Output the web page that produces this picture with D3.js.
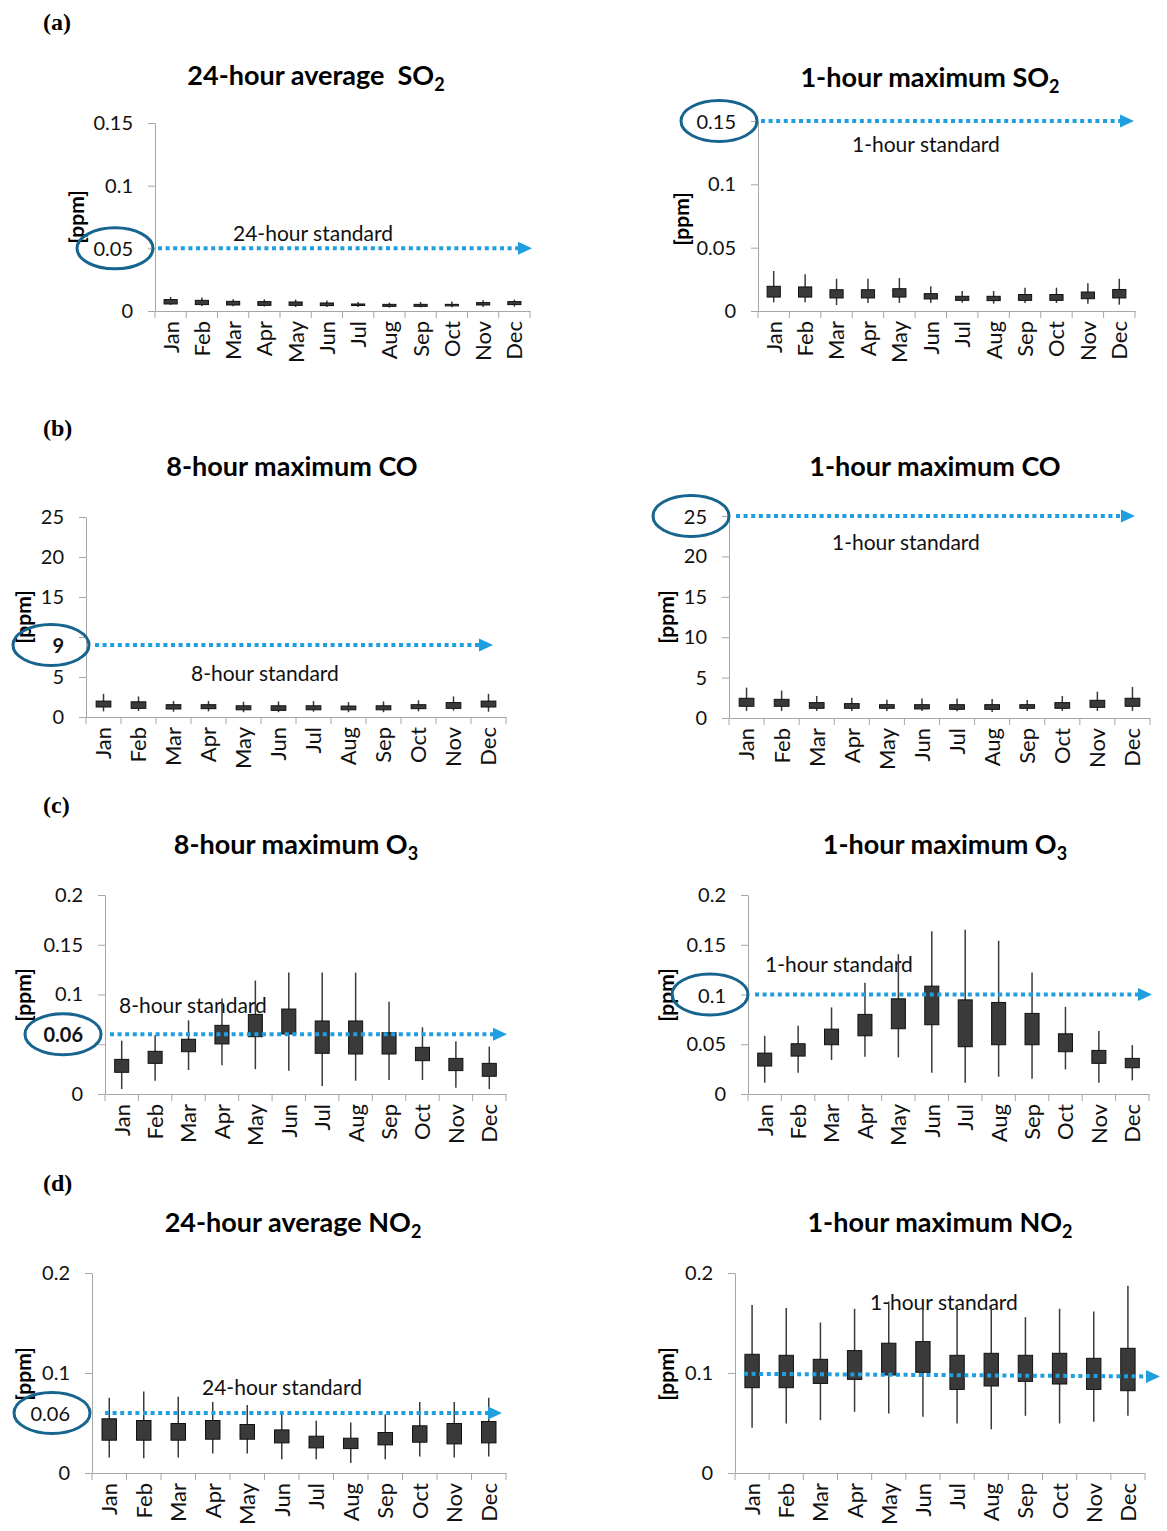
<!DOCTYPE html>
<html lang="en">
<head>
  <meta charset="UTF-8" />
  <title>Monthly distribution of pollutant concentrations</title>
  <script src="https://d3js.org/d3.v7.min.js"></script>
  <style>
    body { margin: 0; background: #fff; }
    svg { display: block; font-family: Lato, 'Open Sans', sans-serif; }
    .title { white-space: pre; }
  </style>
</head>
<body>
  <svg id="chart"></svg>

  <script>
    const months = ["Jan", "Feb", "Mar", "Apr", "May", "Jun", "Jul", "Aug", "Sep", "Oct", "Nov", "Dec"];

    // (a) SO2, 24-hour average [ppm]
    const so2AvgLow  = [0.0048, 0.0040, 0.0037, 0.0036, 0.0032, 0.0032, 0.0032, 0.0027, 0.0029, 0.0029, 0.0032, 0.0035];
    const so2AvgQ1   = [0.0056, 0.0051, 0.0048, 0.0045, 0.0045, 0.0043, 0.0045, 0.0037, 0.0037, 0.0043, 0.0048, 0.0051];
    const so2AvgQ3   = [0.0091, 0.0085, 0.0077, 0.0075, 0.0072, 0.0064, 0.0056, 0.0053, 0.0053, 0.0053, 0.0067, 0.0075];
    const so2AvgHigh = [0.0112, 0.0107, 0.0093, 0.0093, 0.0091, 0.0083, 0.0072, 0.0067, 0.0072, 0.0075, 0.0085, 0.0091];

    // (a) SO2, 1-hour maximum [ppm]
    const so2MaxLow  = [0.0068, 0.0070, 0.0047, 0.0063, 0.0063, 0.0063, 0.0066, 0.0058, 0.0063, 0.0063, 0.0058, 0.0050];
    const so2MaxQ1   = [0.0110, 0.0110, 0.0103, 0.0103, 0.0110, 0.0095, 0.0084, 0.0082, 0.0084, 0.0084, 0.0097, 0.0103];
    const so2MaxQ3   = [0.0195, 0.0190, 0.0168, 0.0168, 0.0176, 0.0137, 0.0116, 0.0116, 0.0130, 0.0130, 0.0150, 0.0170];
    const so2MaxHigh = [0.0316, 0.0290, 0.0255, 0.0255, 0.0260, 0.0195, 0.0158, 0.0158, 0.0184, 0.0184, 0.0220, 0.0255];

    // (b) CO, 8-hour maximum [ppm]
    const co8Low  = [0.70, 0.75, 0.66, 0.70, 0.60, 0.60, 0.66, 0.60, 0.60, 0.70, 0.80, 0.66];
    const co8Q1   = [1.25, 1.08, 1.00, 1.04, 0.90, 0.83, 0.90, 0.90, 0.90, 1.04, 1.08, 1.25];
    const co8Q3   = [1.99, 1.90, 1.54, 1.54, 1.40, 1.40, 1.40, 1.37, 1.40, 1.54, 1.80, 1.99];
    const co8High = [2.90, 2.57, 2.00, 2.00, 1.90, 1.95, 2.00, 1.87, 1.95, 2.10, 2.57, 2.90];

    // (b) CO, 1-hour maximum [ppm]
    const co1Low  = [0.87, 0.87, 0.87, 0.87, 0.87, 0.87, 0.83, 0.74, 0.87, 0.87, 0.87, 0.87];
    const co1Q1   = [1.45, 1.45, 1.20, 1.20, 1.20, 1.12, 1.07, 1.07, 1.20, 1.20, 1.32, 1.45];
    const co1Q3   = [2.44, 2.31, 1.90, 1.78, 1.65, 1.65, 1.65, 1.65, 1.65, 1.90, 2.19, 2.44];
    const co1High = [3.76, 3.39, 2.73, 2.52, 2.27, 2.40, 2.40, 2.36, 2.23, 2.73, 3.26, 3.84];

    // (c) O3, 8-hour maximum [ppm]
    const o38Low  = [0.0050, 0.0134, 0.0241, 0.0290, 0.0250, 0.0234, 0.0080, 0.0134, 0.0140, 0.0140, 0.0064, 0.0050];
    const o38Q1   = [0.0218, 0.0308, 0.0425, 0.0503, 0.0576, 0.0603, 0.0409, 0.0402, 0.0402, 0.0335, 0.0235, 0.0178];
    const o38Q3   = [0.0348, 0.0429, 0.0550, 0.0690, 0.0800, 0.0854, 0.0734, 0.0734, 0.0616, 0.0469, 0.0358, 0.0308];
    const o38High = [0.0536, 0.0590, 0.0740, 0.0960, 0.1140, 0.1220, 0.1220, 0.1220, 0.0928, 0.0670, 0.0529, 0.0476];

    // (c) O3, 1-hour maximum [ppm]
    const o31Low  = [0.0114, 0.0214, 0.0341, 0.0375, 0.0368, 0.0214, 0.0114, 0.0174, 0.0154, 0.0247, 0.0114, 0.0137];
    const o31Q1   = [0.0281, 0.0381, 0.0495, 0.0585, 0.0656, 0.0696, 0.0475, 0.0495, 0.0495, 0.0425, 0.0308, 0.0264];
    const o31Q3   = [0.0411, 0.0505, 0.0652, 0.0800, 0.0957, 0.1084, 0.0946, 0.0920, 0.0810, 0.0605, 0.0438, 0.0358];
    const o31High = [0.0585, 0.0686, 0.0870, 0.1117, 0.1405, 0.1635, 0.1650, 0.1540, 0.1220, 0.0876, 0.0632, 0.0492];

    // (d) NO2, 24-hour average [ppm]
    const no2AvgLow  = [0.0154, 0.0147, 0.0154, 0.0194, 0.0194, 0.0137, 0.0137, 0.0100, 0.0137, 0.0164, 0.0154, 0.0164];
    const no2AvgQ1   = [0.0328, 0.0328, 0.0328, 0.0338, 0.0338, 0.0301, 0.0251, 0.0244, 0.0281, 0.0308, 0.0291, 0.0301];
    const no2AvgQ3   = [0.0542, 0.0525, 0.0495, 0.0525, 0.0485, 0.0431, 0.0368, 0.0348, 0.0405, 0.0472, 0.0495, 0.0515];
    const no2AvgHigh = [0.0753, 0.0816, 0.0763, 0.0709, 0.0679, 0.0579, 0.0522, 0.0505, 0.0585, 0.0709, 0.0709, 0.0753];

    // (d) NO2, 1-hour maximum [ppm]
    const no2MaxLow  = [0.0452, 0.0495, 0.0528, 0.0612, 0.0595, 0.0562, 0.0495, 0.0438, 0.0572, 0.0495, 0.0512, 0.0572];
    const no2MaxQ1   = [0.0853, 0.0853, 0.0896, 0.0936, 0.0980, 0.1007, 0.0836, 0.0870, 0.0916, 0.0890, 0.0836, 0.0823];
    const no2MaxQ3   = [0.1187, 0.1177, 0.1137, 0.1224, 0.1298, 0.1314, 0.1177, 0.1197, 0.1177, 0.1197, 0.1147, 0.1247];
    const no2MaxHigh = [0.1680, 0.1649, 0.1505, 0.1642, 0.1716, 0.1672, 0.1666, 0.1672, 0.1559, 0.1642, 0.1615, 0.1873];

    const panelLabels = ["(a)", "(b)", "(c)", "(d)"];
    const panelLabelY = [22, 428, 805, 1183];

    const panels = [
      { title: "24-hour average  SO", sub: "2", tx: 316, ty: 85,
        low: so2AvgLow, q1: so2AvgQ1, q3: so2AvgQ3, high: so2AvgHigh,
        x0: 155, x1: 530, yb: 311, yt: 123, domain: [0, 0.15], ticks: [0, 0.05, 0.1, 0.15], hide: [0.05],
        std: [0.05, 0.05], stdX: [158, 532], stdText: "24-hour standard", stdTx: 233, stdTy: 232,
        ring: "0.05", ringBold: false, ringDx: -40, ppmX: 75, ppmY: 217 },
      { title: "1-hour maximum SO", sub: "2", tx: 930, ty: 87,
        low: so2MaxLow, q1: so2MaxQ1, q3: so2MaxQ3, high: so2MaxHigh,
        x0: 758, x1: 1135, yb: 311, yt: 121, domain: [0, 0.15], ticks: [0, 0.05, 0.1, 0.15], hide: [0.15],
        std: [0.15, 0.15], stdX: [761, 1134], stdText: "1-hour standard", stdTx: 852, stdTy: 143,
        ring: "0.15", ringBold: false, ringDx: -39, ppmX: 680, ppmY: 219 },
      { title: "8-hour maximum CO", sub: "", tx: 292, ty: 476,
        low: co8Low, q1: co8Q1, q3: co8Q3, high: co8High,
        x0: 86, x1: 506, yb: 717, yt: 517, domain: [0, 25], ticks: [0, 5, 10, 15, 20, 25], hide: [10],
        std: [9, 9], stdX: [95, 493], stdText: "8-hour standard", stdTx: 191, stdTy: 672,
        ring: "9", ringBold: true, ringDx: -35, ppmX: 22, ppmY: 617 },
      { title: "1-hour maximum CO", sub: "", tx: 935, ty: 476,
        low: co1Low, q1: co1Q1, q3: co1Q3, high: co1High,
        x0: 729, x1: 1150, yb: 718, yt: 516, domain: [0, 25], ticks: [0, 5, 10, 15, 20, 25], hide: [25],
        std: [25, 25], stdX: [736, 1135], stdText: "1-hour standard", stdTx: 832, stdTy: 541,
        ring: "25", ringBold: false, ringDx: -38, ppmX: 665, ppmY: 617 },
      { title: "8-hour maximum O", sub: "3", tx: 296, ty: 854,
        low: o38Low, q1: o38Q1, q3: o38Q3, high: o38High,
        x0: 105, x1: 506, yb: 1094, yt: 895, domain: [0, 0.2], ticks: [0, 0.05, 0.1, 0.15, 0.2], hide: [0.05],
        std: [0.06, 0.06], stdX: [110, 507], stdText: "8-hour standard", stdTx: 119, stdTy: 1004,
        ring: "0.06", ringBold: true, ringDx: -42, ppmX: 22, ppmY: 995 },
      { title: "1-hour maximum O", sub: "3", tx: 945, ty: 854,
        low: o31Low, q1: o31Q1, q3: o31Q3, high: o31High,
        x0: 748, x1: 1149, yb: 1094, yt: 895, domain: [0, 0.2], ticks: [0, 0.05, 0.1, 0.15, 0.2], hide: [0.1],
        std: [0.1, 0.1], stdX: [755, 1152], stdText: "1-hour standard", stdTx: 765, stdTy: 963,
        ring: "0.1", ringBold: false, ringDx: -38, ppmX: 665, ppmY: 995 },
      { title: "24-hour average NO", sub: "2", tx: 293, ty: 1232,
        low: no2AvgLow, q1: no2AvgQ1, q3: no2AvgQ3, high: no2AvgHigh,
        x0: 92, x1: 506, yb: 1473, yt: 1273, domain: [0, 0.2], ticks: [0, 0.1, 0.2], hide: [],
        std: [0.06, 0.06], stdX: [105, 502], stdText: "24-hour standard", stdTx: 202, stdTy: 1386,
        ring: "0.06", ringBold: false, ringDx: -40, ppmX: 22, ppmY: 1374 },
      { title: "1-hour maximum NO", sub: "2", tx: 940, ty: 1232,
        low: no2MaxLow, q1: no2MaxQ1, q3: no2MaxQ3, high: no2MaxHigh,
        x0: 735, x1: 1145, yb: 1473, yt: 1273, domain: [0, 0.2], ticks: [0, 0.1, 0.2], hide: [],
        std: [0.0992, 0.0965], stdX: [744, 1160], stdText: "1-hour standard", stdTx: 870, stdTy: 1301,
        ring: null, ringBold: false, ringDx: 0, ppmX: 665, ppmY: 1374 }
    ];

    const W = 1167, H = 1531;
    const axisColor = "#a6a6a6";
    const stdColor = "#1f9ee0";
    const ringColor = "#17648f";

    const svg = d3.select("#chart").attr("width", W).attr("height", H);
    svg.append("rect").attr("width", W).attr("height", H).attr("fill", "#fff");

    panelLabels.forEach((t, i) => {
      svg.append("text")
        .attr("x", 43).attr("y", panelLabelY[i])
        .attr("dominant-baseline", "central")
        .attr("font-family", "'Liberation Serif', 'DejaVu Serif', serif")
        .attr("font-weight", "bold").attr("font-size", 24)
        .text(t);
    });

    panels.forEach(p => {
      const g = svg.append("g");
      const x = d3.scaleBand().domain(months).range([p.x0, p.x1]);
      const y = d3.scaleLinear().domain(p.domain).range([p.yb, p.yt]);

      // title
      const title = g.append("text")
        .attr("class", "title")
        .attr("x", p.tx).attr("y", p.ty)
        .attr("text-anchor", "middle")
        .attr("font-weight", "bold").attr("font-size", 27)
        .text(p.title);
      if (p.sub) {
        title.append("tspan").attr("font-size", 18).attr("dy", 6).text(p.sub);
      }

      // y axis
      const yAxis = g.append("g")
        .attr("transform", `translate(${p.x0},0)`)
        .call(d3.axisLeft(y).tickValues(p.ticks).tickSize(7).tickSizeOuter(0).tickPadding(15)
          .tickFormat(d => p.hide.includes(d) ? "" : String(d)));
      yAxis.select(".domain").attr("stroke", axisColor);
      yAxis.selectAll(".tick line").attr("stroke", axisColor);
      yAxis.selectAll(".tick text").attr("font-size", 20).attr("font-family", "Lato, sans-serif").attr("fill", "#111");

      // x axis, labels at band centres, ticks at band edges
      const xAxis = g.append("g")
        .attr("transform", `translate(0,${p.yb})`)
        .call(d3.axisBottom(x).tickSize(0).tickSizeOuter(0));
      xAxis.select(".domain").attr("stroke", axisColor);
      xAxis.selectAll(".tick text")
        .attr("transform", "rotate(-90)")
        .attr("text-anchor", "end")
        .attr("x", -10).attr("y", 0).attr("dy", "0.36em")
        .attr("font-size", 22).attr("font-family", "Lato, sans-serif").attr("fill", "#111");
      const edges = months.map(m => x(m)).concat([p.x1]);
      g.selectAll(".edge").data(edges).join("line")
        .attr("x1", d => d).attr("x2", d => d)
        .attr("y1", p.yb).attr("y2", p.yb + 7)
        .attr("stroke", axisColor);

      // ppm label
      g.append("text")
        .attr("transform", `translate(${p.ppmX},${p.ppmY}) rotate(-90)`)
        .attr("text-anchor", "middle").attr("dominant-baseline", "central")
        .attr("font-weight", "bold").attr("font-size", 21)
        .text("[ppm]");

      // standard text (drawn beneath the boxes)
      g.append("text")
        .attr("x", p.stdTx).attr("y", p.stdTy)
        .attr("dominant-baseline", "central")
        .attr("font-size", 21).attr("fill", "#111")
        .text(p.stdText);

      // boxes
      const rows = months.map((m, i) => ({ m, low: p.low[i], q1: p.q1[i], q3: p.q3[i], high: p.high[i] }));
      const bw = x.bandwidth() * 0.42;
      g.selectAll(".whisker").data(rows).join("line")
        .attr("x1", d => x(d.m) + x.bandwidth() / 2).attr("x2", d => x(d.m) + x.bandwidth() / 2)
        .attr("y1", d => y(d.high)).attr("y2", d => y(d.low))
        .attr("stroke", "#3a3a3a").attr("stroke-width", 1.5);
      g.selectAll(".box").data(rows).join("rect")
        .attr("x", d => x(d.m) + (x.bandwidth() - bw) / 2)
        .attr("y", d => y(d.q3))
        .attr("width", bw)
        .attr("height", d => Math.max(1.5, y(d.q1) - y(d.q3)))
        .attr("fill", "#3a3a3a").attr("stroke", "#111").attr("stroke-width", 1);

      // standard line with arrow
      const ya = y(p.std[0]), yb2 = y(p.std[1]);
      const tip = p.stdX[1];
      const ang = Math.atan2(yb2 - ya, tip - p.stdX[0]);
      const lineEnd = tip - 12;
      const lineEndY = ya + (yb2 - ya) * (lineEnd - p.stdX[0]) / (tip - p.stdX[0]);
      g.append("line")
        .attr("x1", p.stdX[0]).attr("y1", ya)
        .attr("x2", lineEnd).attr("y2", lineEndY)
        .attr("stroke", stdColor).attr("stroke-width", 4)
        .attr("stroke-dasharray", "4,3.6");
      g.append("path")
        .attr("d", "M0,0 L-14,-6.5 L-14,6.5 Z")
        .attr("transform", `translate(${tip},${yb2}) rotate(${ang * 180 / Math.PI})`)
        .attr("fill", stdColor);

      // circled value on the y axis
      if (p.ring) {
        const yr = y(p.std[0]);
        g.append("text")
          .attr("x", p.x0 - 22).attr("y", yr)
          .attr("text-anchor", "end").attr("dominant-baseline", "central")
          .attr("font-size", 20).attr("fill", "#111")
          .attr("font-weight", p.ringBold ? "bold" : "normal")
          .text(p.ring);
        g.append("ellipse")
          .attr("cx", p.x0 + p.ringDx).attr("cy", yr)
          .attr("rx", 38).attr("ry", 20.5)
          .attr("fill", "none").attr("stroke", ringColor).attr("stroke-width", 3);
      }
    });
  </script>
</body>
</html>
